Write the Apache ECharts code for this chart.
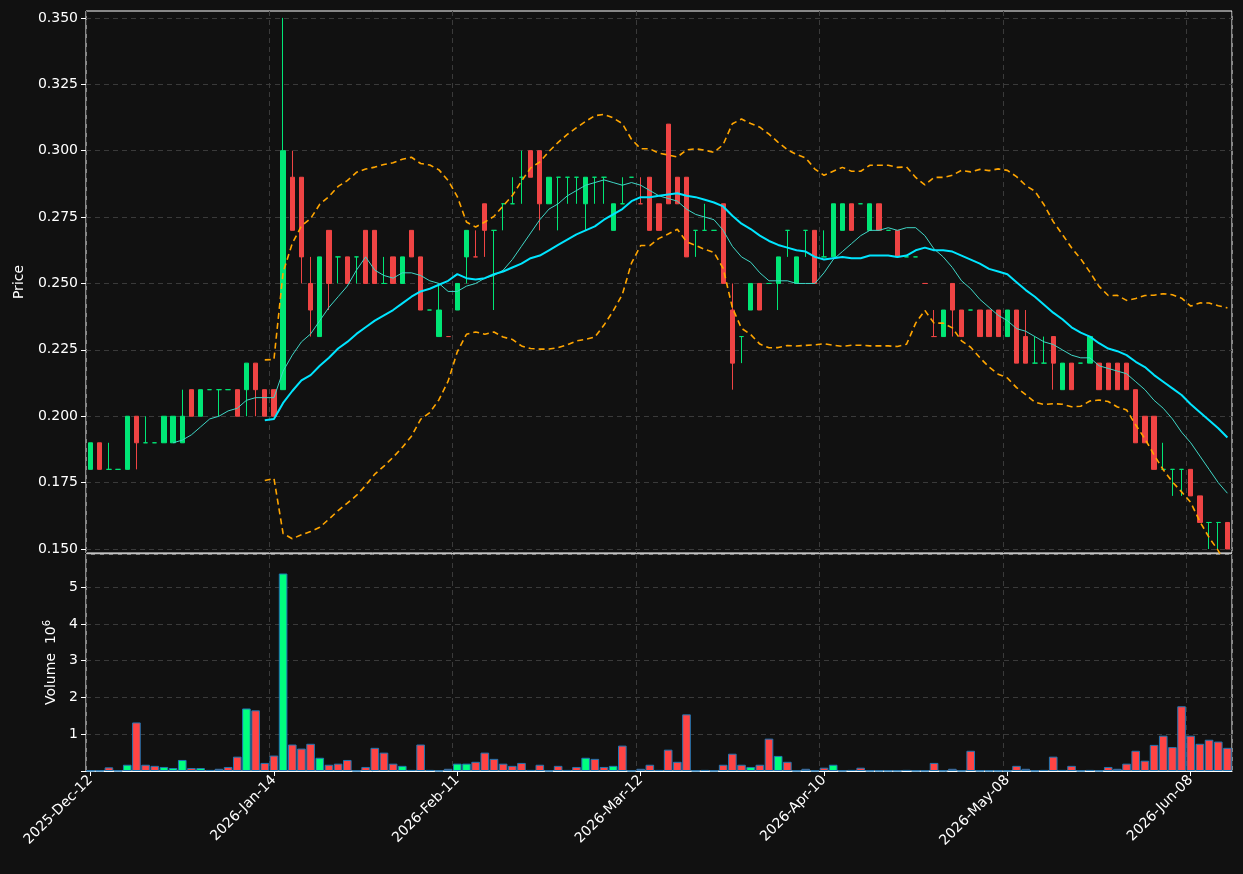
<!DOCTYPE html>
<html>
<head>
<meta charset="utf-8">
<script src="https://cdn.jsdelivr.net/npm/echarts@6/dist/echarts.min.js"></script>
<style>
  html, body { margin: 0; padding: 0; background: #111111; }
  #chart { width: 1243px; height: 874px; }
</style>
</head>
<body>
<div id="chart"></div>
<script>
// open, close, low, high per bar
const opens = [
  0.18,0.19,0.18,0.18,0.18,0.20,0.19,0.19,0.19,0.19,
  0.19,0.21,0.20,0.21,0.21,0.21,0.21,0.21,0.22,0.21,
  0.21,0.21,0.29,0.29,0.25,0.23,0.27,0.26,0.26,0.26,
  0.27,0.27,0.25,0.26,0.25,0.27,0.26,0.24,0.23,0.23,
  0.24,0.26,0.26,0.28,0.27,0.28,0.28,0.29,0.30,0.30,
  0.28,0.29,0.29,0.29,0.28,0.29,0.29,0.27,0.28,0.29,
  0.28,0.29,0.28,0.31,0.29,0.29,0.27,0.27,0.27,0.28,
  0.24,0.23,0.24,0.25,0.25,0.25,0.27,0.25,0.27,0.27,
  0.26,0.26,0.27,0.28,0.28,0.27,0.28,0.27,0.27,0.26,
  0.26,0.25,0.23,0.23,0.25,0.24,0.24,0.24,0.24,0.24,
  0.23,0.24,0.23,0.22,0.22,0.23,0.21,0.22,0.22,0.22,
  0.22,0.22,0.22,0.22,0.21,0.20,0.20,0.18,0.18,0.18,
  0.18,0.17,0.16,0.16,0.16
];
const closes = [
  0.19,0.18,0.18,0.18,0.20,0.19,0.19,0.19,0.20,0.20,
  0.20,0.20,0.21,0.21,0.21,0.21,0.20,0.22,0.21,0.20,
  0.20,0.30,0.27,0.26,0.24,0.26,0.25,0.26,0.25,0.26,
  0.25,0.25,0.25,0.25,0.26,0.26,0.24,0.24,0.24,0.23,
  0.25,0.27,0.26,0.27,0.27,0.28,0.28,0.29,0.29,0.28,
  0.29,0.29,0.29,0.29,0.29,0.29,0.29,0.28,0.28,0.29,
  0.28,0.27,0.27,0.28,0.28,0.26,0.27,0.27,0.27,0.25,
  0.22,0.23,0.25,0.24,0.25,0.26,0.27,0.26,0.27,0.25,
  0.26,0.28,0.28,0.27,0.28,0.28,0.27,0.27,0.26,0.26,
  0.26,0.25,0.23,0.24,0.24,0.23,0.24,0.23,0.23,0.23,
  0.24,0.22,0.22,0.22,0.22,0.22,0.22,0.21,0.22,0.23,
  0.21,0.21,0.21,0.21,0.19,0.19,0.18,0.18,0.18,0.18,
  0.17,0.16,0.16,0.16,0.15
];
const lows = [
  0.18,0.18,0.18,0.18,0.18,0.18,0.19,0.19,0.19,0.19,
  0.19,0.20,0.20,0.21,0.20,0.21,0.20,0.20,0.20,0.20,
  0.20,0.21,0.27,0.25,0.23,0.23,0.24,0.25,0.25,0.25,
  0.25,0.25,0.25,0.25,0.25,0.26,0.24,0.24,0.23,0.23,
  0.24,0.25,0.26,0.26,0.24,0.27,0.28,0.28,0.29,0.27,
  0.28,0.27,0.28,0.28,0.27,0.28,0.28,0.27,0.28,0.29,
  0.28,0.27,0.27,0.28,0.28,0.26,0.26,0.27,0.27,0.25,
  0.21,0.22,0.24,0.24,0.25,0.24,0.26,0.25,0.26,0.25,
  0.26,0.26,0.27,0.27,0.28,0.27,0.27,0.27,0.26,0.26,
  0.26,0.25,0.23,0.23,0.23,0.23,0.24,0.23,0.23,0.23,
  0.23,0.22,0.22,0.22,0.22,0.21,0.21,0.21,0.22,0.22,
  0.21,0.21,0.21,0.21,0.19,0.19,0.18,0.18,0.17,0.17,
  0.17,0.16,0.15,0.15,0.15
];
const highs = [
  0.19,0.19,0.19,0.18,0.20,0.20,0.20,0.19,0.20,0.20,
  0.21,0.21,0.21,0.21,0.21,0.21,0.21,0.22,0.22,0.21,
  0.21,0.35,0.30,0.29,0.26,0.26,0.27,0.26,0.26,0.26,
  0.27,0.27,0.26,0.26,0.26,0.27,0.26,0.24,0.25,0.23,
  0.25,0.27,0.27,0.28,0.27,0.28,0.29,0.30,0.30,0.30,
  0.29,0.29,0.29,0.29,0.29,0.29,0.29,0.28,0.29,0.29,
  0.29,0.29,0.28,0.31,0.29,0.29,0.27,0.28,0.27,0.28,
  0.25,0.23,0.25,0.25,0.25,0.26,0.27,0.26,0.27,0.27,
  0.27,0.28,0.28,0.28,0.28,0.28,0.28,0.27,0.27,0.26,
  0.26,0.25,0.24,0.24,0.25,0.24,0.24,0.24,0.24,0.24,
  0.24,0.24,0.24,0.23,0.23,0.23,0.22,0.22,0.22,0.23,
  0.22,0.22,0.22,0.22,0.21,0.20,0.20,0.19,0.18,0.18,
  0.18,0.17,0.16,0.16,0.16
];
// volume in millions
const volumes = [
  0.01,0.01,0.10,0.01,0.17,1.32,0.17,0.14,0.11,0.08,
  0.30,0.08,0.08,0.03,0.06,0.11,0.39,1.70,1.65,0.22,
  0.42,5.37,0.72,0.61,0.74,0.36,0.17,0.20,0.30,0.01,
  0.11,0.63,0.50,0.20,0.14,0.03,0.72,0.03,0.01,0.06,
  0.20,0.20,0.25,0.50,0.33,0.20,0.14,0.22,0.03,0.17,
  0.01,0.14,0.03,0.11,0.36,0.33,0.11,0.14,0.69,0.01,
  0.06,0.17,0.03,0.58,0.25,1.54,0.01,0.03,0.01,0.17,
  0.47,0.17,0.11,0.17,0.88,0.41,0.25,0.01,0.06,0.01,
  0.09,0.17,0.01,0.03,0.09,0.01,0.01,0.01,0.01,0.03,
  0.01,0.01,0.22,0.01,0.06,0.01,0.55,0.01,0.01,0.01,
  0.01,0.14,0.06,0.01,0.03,0.39,0.03,0.14,0.01,0.03,
  0.01,0.11,0.06,0.20,0.55,0.28,0.71,0.96,0.65,1.76,
  0.96,0.74,0.85,0.80,0.63
];
const volumeUpIdx = [4,8,9,10,12,17,21,25,34,40,41,54,57,72,75,81,106,109];
const tickLabels = {
  0: '2025-Dec-12', 20: '2026-Jan-14', 40: '2026-Feb-11', 60: '2026-Mar-12',
  80: '2026-Apr-10', 100: '2026-May-08', 120: '2026-Jun-08'
};
const priceTicks = [0.150, 0.175, 0.200, 0.225, 0.250, 0.275, 0.300, 0.325, 0.350];

const UP = '#00e676', DOWN = '#ef4444';
const VUP = '#00ff7f', VDOWN = '#ff4444';
const GRIDLINE = { show: true, lineStyle: { color: '#3a3a3a', type: [5, 4], width: 1 } };
const FONT = 'DejaVu Sans';

const categories = closes.map((_, i) => String(i));
const candles = closes.map((c, i) => [opens[i], c, lows[i], highs[i]]);

// rolling mean / bollinger (20, 2, sample std)
function rollMean(p) {
  return closes.map((_, i) => {
    if (i < p - 1) return '-';
    let s = 0;
    for (let k = i - p + 1; k <= i; k++) s += closes[k];
    return s / p;
  });
}
const ma10 = rollMean(10);
const ma20 = rollMean(20);
const bbUp = [], bbLo = [];
closes.forEach((_, i) => {
  if (i < 19) { bbUp.push('-'); bbLo.push('-'); return; }
  let v = 0;
  for (let k = i - 19; k <= i; k++) v += (closes[k] - ma20[i]) ** 2;
  const sd = Math.sqrt(v / 19);
  bbUp.push(ma20[i] + 2 * sd);
  bbLo.push(ma20[i] - 2 * sd);
});

const volData = volumes.map((v, i) => ({
  value: v,
  itemStyle: { color: volumeUpIdx.includes(i) ? VUP : VDOWN }
}));

const isTick = (i) => i % 20 === 0;

const chart = echarts.init(document.getElementById('chart'));
chart.setOption({
  backgroundColor: '#111111',
  animation: false,
  textStyle: { fontFamily: FONT },
  grid: [
    { left: 86, right: 11, top: 11, height: 542, show: true, borderColor: '#ffffff', borderWidth: 1 },
    { left: 86, right: 11, top: 554, height: 217, show: true, borderColor: '#ffffff', borderWidth: 1 }
  ],
  xAxis: [
    {
      type: 'category', gridIndex: 0, data: categories, boundaryGap: true,
      axisLine: { show: false }, axisTick: { show: false }, axisLabel: { show: false },
      splitLine: Object.assign({ interval: (i) => isTick(i) }, GRIDLINE)
    },
    {
      type: 'category', gridIndex: 1, data: categories, boundaryGap: true,
      axisLine: { lineStyle: { color: '#ffffff' } },
      axisTick: { show: true, alignWithLabel: true, interval: (i) => isTick(i), length: 5, lineStyle: { color: '#ffffff' } },
      axisLabel: {
        interval: (i) => isTick(i), rotate: 45, color: '#ffffff', fontSize: 14, margin: 7,
        formatter: (v, i) => tickLabels[i] || ''
      },
      splitLine: Object.assign({ interval: (i) => isTick(i) }, GRIDLINE)
    }
  ],
  yAxis: [
    {
      type: 'value', gridIndex: 0, min: 0.1485, max: 0.3526,
      name: 'Price', nameLocation: 'middle', nameGap: 60, nameRotate: 90,
      nameTextStyle: { color: '#ffffff', fontSize: 14 },
      axisLine: { show: false },
      axisTick: { show: true, customValues: priceTicks, length: 5, lineStyle: { color: '#ffffff' } },
      axisLabel: { customValues: priceTicks, color: '#ffffff', fontSize: 14, formatter: (v) => v.toFixed(3) },
      splitLine: GRIDLINE
    },
    {
      type: 'value', gridIndex: 1, min: 0, max: 5.9, interval: 1,
      name: '{a|Volume  10}{s|6}', nameLocation: 'middle', nameGap: 20, nameRotate: 90,
      nameTextStyle: { rich: { a: { color: '#ffffff', fontSize: 14 }, s: { color: '#ffffff', fontSize: 10, verticalAlign: 'bottom', padding: [0, 0, 8, 0] } } },
      axisLine: { show: false },
      axisTick: { show: true, length: 5, lineStyle: { color: '#ffffff' } },
      axisLabel: { color: '#ffffff', fontSize: 14, showMaxLabel: false, formatter: (v) => (v === 0 || v > 5.5 ? '' : String(v)) },
      splitLine: GRIDLINE
    }
  ],
  series: [
    {
      type: 'candlestick', xAxisIndex: 0, yAxisIndex: 0, data: candles, barWidth: '52%',
      itemStyle: { color: UP, color0: DOWN, borderColor: UP, borderColor0: DOWN, borderWidth: 1 }
    },
    { type: 'line', data: ma10, symbol: 'none', lineStyle: { color: '#3fd6c6', width: 1 }, z: 3 },
    { type: 'line', data: ma20, symbol: 'none', lineStyle: { color: '#00e5ff', width: 2 }, z: 3 },
    { type: 'line', data: bbUp, symbol: 'none', lineStyle: { color: '#ffa500', width: 1.6, type: [6, 4] }, z: 3 },
    { type: 'line', data: bbLo, symbol: 'none', lineStyle: { color: '#ffa500', width: 1.6, type: [6, 4] }, z: 3 },
    {
      type: 'bar', xAxisIndex: 1, yAxisIndex: 1, data: volData, barCategoryGap: '6%',
      itemStyle: { borderColor: '#1f77b4', borderWidth: 1 }
    }
  ]
});
</script>
</body>
</html>
